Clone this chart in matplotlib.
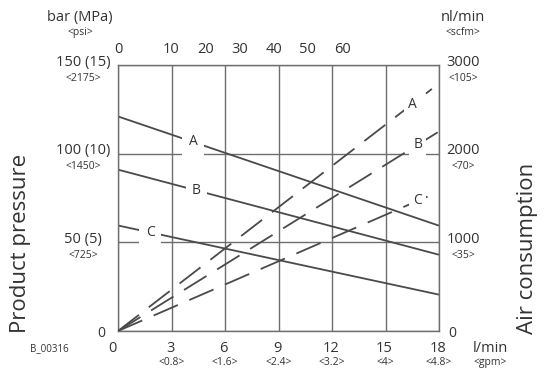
import numpy as np
import matplotlib.pyplot as plt

plt.rcParams['font.family'] = ['Open Sans', 'DejaVu Sans']
plt.rcParams['lines.scale_dashes'] = False

# bottom axis: flow (l/min) and <gpm>
flow_lpm = [0, 3, 6, 9, 12, 15, 18]
flow_gpm = ["", "<0.8>", "<1.6>", "<2.4>", "<3.2>", "<4>", "<4.8>"]
# left axis: product pressure
press_bar = [0, 50, 100, 150]
press_lbl = ["0", "50 (5)", "100 (10)", "150 (15)"]
press_psi = ["", "<725>", "<1450>", "<2175>"]
# right axis: air consumption
air_nl = [0, 1000, 2000, 3000]
air_lbl = ["0", "1000", "2000", "3000"]
air_scfm = ["", "<35>", "<70>", "<105>"]
# top scale
top_vals = ["0", "10", "20", "30", "40", "50", "60"]
top_pos = [0.05, 3.0, 4.9, 6.8, 8.75, 10.65, 12.6]

# product pressure (bar) vs flow -> solid lines
press_x = [0, 18]
press_A = [121, 59.4]
press_B = [91, 43]
press_C = [59.5, 20.5]
press_lbl_x = [4.2, 4.4, 1.8]

# air consumption (nl/min) vs flow -> dashed lines
air_x_A = [0, 17.6]
air_A = [0, 2730]
air_x_B = [0, 18]
air_B = [0, 2250]
air_x_C = [0, 17.8]
air_C = [0, 1555]
air_lbl_x = [16.5, 16.8, 16.8]

names = ["A", "B", "C"]
ink = "#4a4a4a"
grid_c = "#6e6e6e"
txt = "#333333"
sub_fs = 7.5

fig = plt.figure(figsize=(5.46, 3.78), dpi=100)
ax = fig.add_axes([118 / 546, 47 / 378, 321 / 546, 266 / 378])
ax.set_xlim(0, 18)
ax.set_ylim(0, 150)
ax.set_xticks(flow_lpm)
ax.set_yticks(press_bar)
ax.tick_params(length=0, labelbottom=False, labelleft=False)
ax.grid(True, color=grid_c, lw=1.0)
for s in ax.spines.values():
    s.set_color(grid_c)
    s.set_linewidth(1.0)

ax2 = ax.twinx()
ax2.set_ylim(0, 3000)
ax2.set_yticks([])
ax2.axis("off")

# solid pressure lines
for name, ys, lx in zip(names, [press_A, press_B, press_C], press_lbl_x):
    ax.plot(press_x, ys, color=ink, lw=1.3, solid_capstyle="butt")
    ly = np.interp(lx, press_x, ys)
    ax.text(lx, ly, name, ha="center", va="center", fontsize=10, color=txt,
            bbox=dict(boxstyle="square,pad=0.45", fc="white", ec="none"), zorder=4)

# dashed air lines
for name, xs, ys, lx in zip(names, [air_x_A, air_x_B, air_x_C], [air_A, air_B, air_C], air_lbl_x):
    ax2.plot(xs, ys, color=ink, lw=1.3, dashes=(19, 9))
    ly = np.interp(lx, xs, ys)
    ax2.text(lx, ly, name, ha="center", va="center", fontsize=10, color=txt,
             bbox=dict(boxstyle="square,pad=0.3", fc="white", ec="none"), zorder=4)

# left tick labels
ytr = ax.get_yaxis_transform()
for v, lab, sub in zip(press_bar, press_lbl, press_psi):
    if v == 0:
        ax.annotate(lab, (-0.053, v), xycoords=ytr, ha="center", va="center",
                    fontsize=10, color=txt, xytext=(0, -2), textcoords="offset points")
        continue
    ax.annotate(lab, (-0.109, v), xycoords=ytr, ha="center", va="center",
                fontsize=10.5, color=txt, xytext=(0, 2), textcoords="offset points")
    ax.annotate(sub, (-0.109, v), xycoords=ytr, ha="center", va="center",
                fontsize=sub_fs, color=txt, xytext=(0, -9.5), textcoords="offset points")

# right tick labels
ytr2 = ax2.get_yaxis_transform()
for v, lab, sub in zip(air_nl, air_lbl, air_scfm):
    if v == 0:
        ax2.annotate(lab, (1.04, v), xycoords=ytr2, ha="center", va="center",
                     fontsize=10, color=txt, xytext=(0, -2), textcoords="offset points")
        continue
    ax2.annotate(lab, (1.075, v), xycoords=ytr2, ha="center", va="center",
                 fontsize=10.5, color=txt, xytext=(0, 2), textcoords="offset points")
    ax2.annotate(sub, (1.075, v), xycoords=ytr2, ha="center", va="center",
                 fontsize=sub_fs, color=txt, xytext=(0, -9.5), textcoords="offset points")

# bottom tick labels
xtr = ax.get_xaxis_transform()
for v, sub in zip(flow_lpm, flow_gpm):
    dx = -4 if v == 0 else -1
    ax.annotate(str(v), (v, 0), xycoords=xtr, ha="center", va="center",
                fontsize=10.5, color=txt, xytext=(dx, -12.5), textcoords="offset points")
    if sub:
        ax.annotate(sub, (v, 0), xycoords=xtr, ha="center", va="center",
                    fontsize=sub_fs, color=txt, xytext=(0, -22.5), textcoords="offset points")

# top scale labels
for p, lab in zip(top_pos, top_vals):
    ax.annotate(lab, (p, 1), xycoords=xtr, ha="center", va="center",
                fontsize=10.5, color=txt, xytext=(0, 11), textcoords="offset points")

# units and titles
T = ax.transAxes
ax.text(-0.118, 1.18, "bar (MPa)", transform=T, ha="center", va="center", fontsize=10.5, color=txt)
ax.text(-0.118, 1.124, "<psi>", transform=T, ha="center", va="center", fontsize=sub_fs, color=txt)
ax.text(1.075, 1.18, "nl/min", transform=T, ha="center", va="center", fontsize=10.5, color=txt)
ax.text(1.075, 1.124, "<scfm>", transform=T, ha="center", va="center", fontsize=sub_fs, color=txt)
ax.text(1.159, -0.064, "l/min", transform=T, ha="center", va="center", fontsize=10.5, color=txt)
ax.text(1.159, -0.118, "<gpm>", transform=T, ha="center", va="center", fontsize=sub_fs, color=txt)
ax.text(-0.215, -0.068, "B_00316", transform=T, ha="center", va="center", fontsize=7, color=txt)
ax.text(-0.305, 0.331, "Product pressure", transform=T, ha="center", va="center",
        rotation=90, fontsize=16, color=txt)
ax.text(1.277, 0.312, "Air consumption", transform=T, ha="center", va="center",
        rotation=90, fontsize=16, color=txt)

fig.savefig("out.png", dpi=100)
